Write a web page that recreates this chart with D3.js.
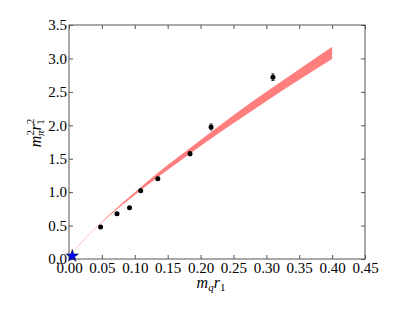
<!DOCTYPE html>
<html>
<head>
<meta charset="utf-8">
<script src="https://cdn.jsdelivr.net/npm/d3@7"></script>
<style>
  body { margin: 0; background: #fff; }
  text { font-family: "Liberation Serif", "DejaVu Serif", serif; fill: #000; }
</style>
</head>
<body>
<svg id="chart" width="399" height="319"></svg>
<script>
// lattice points: m_q r1 vs (m_pi r1)^2
const mq = [0.048, 0.073, 0.092, 0.109, 0.135, 0.184, 0.216, 0.310];
const mpi2 = [0.48, 0.675, 0.765, 1.02, 1.20, 1.575, 1.975, 2.72];
const err = [0.02, 0.02, 0.02, 0.025, 0.025, 0.03, 0.045, 0.05];

// fit band
const bandX = [0, 0.01, 0.02, 0.05, 0.1, 0.15, 0.2, 0.25, 0.3, 0.35, 0.4];
const bandLo = [0, 0.145, 0.256, 0.545, 0.958, 1.33, 1.69, 2.03, 2.36, 2.68, 2.99];
const bandHi = [0, 0.147, 0.260, 0.558, 0.998, 1.405, 1.78, 2.15, 2.50, 2.84, 3.175];

// physical point
const phys = [{ x: 0.005, y: 0.045 }];

const xTicks = [0, 0.05, 0.1, 0.15, 0.2, 0.25, 0.3, 0.35, 0.4, 0.45];
const yTicks = [0, 0.5, 1, 1.5, 2, 2.5, 3, 3.5];

const svg = d3.select('#chart');
const mLeft = 69, mRight = 365, mTop = 25, mBottom = 259;

const x = d3.scaleLinear().domain([0, 0.45]).range([mLeft, mRight]);
const y = d3.scaleLinear().domain([0, 3.5]).range([mBottom, mTop]);

const band = bandX.map((d, i) => ({ x: d, lo: bandLo[i], hi: bandHi[i] }));
svg.append('path')
  .datum(band)
  .attr('fill', '#ff0000')
  .attr('fill-opacity', 0.5)
  .attr('d', d3.area()
    .curve(d3.curveMonotoneX)
    .x(d => x(d.x))
    .y0(d => y(d.lo))
    .y1(d => y(d.hi)));

const pts = mq.map((d, i) => ({ x: d, y: mpi2[i], e: err[i] }));
const eb = svg.append('g').attr('stroke', '#000').attr('stroke-width', 0.8);
eb.selectAll('line.v')
  .data(pts)
  .enter().append('line')
    .attr('class', 'v')
    .attr('x1', d => x(d.x))
    .attr('x2', d => x(d.x))
    .attr('y1', d => y(d.y - d.e))
    .attr('y2', d => y(d.y + d.e));
for (const s of [-1, 1]) {
  eb.selectAll('line.c' + (s + 1))
    .data(pts)
    .enter().append('line')
      .attr('x1', d => x(d.x) - 1.5)
      .attr('x2', d => x(d.x) + 1.5)
      .attr('y1', d => y(d.y + s * d.e))
      .attr('y2', d => y(d.y + s * d.e));
}
svg.append('g')
  .selectAll('circle')
  .data(pts)
  .enter().append('circle')
    .attr('cx', d => x(d.x))
    .attr('cy', d => y(d.y))
    .attr('r', 2.5)
    .attr('fill', '#000');

// axes frame with inward ticks on all four sides
const axisColor = '#555';
function styleAxis(g) {
  g.select('.domain').remove();
  g.selectAll('.tick line').attr('stroke', axisColor);
  g.selectAll('.tick text')
    .style('font-family', '"Liberation Serif", "DejaVu Serif", serif')
    .style('font-size', '15px')
    .attr('fill', '#000');
}
svg.append('g')
  .attr('transform', `translate(0,${mBottom})`)
  .call(d3.axisBottom(x).tickValues(xTicks).tickFormat(d3.format('.2f')).tickSizeInner(-4).tickPadding(3.5).tickSizeOuter(0))
  .call(styleAxis)
  .call(g => g.selectAll('.tick text').attr('dy', '0.72em'));
svg.append('g')
  .attr('transform', `translate(0,${mTop})`)
  .call(d3.axisTop(x).tickValues(xTicks).tickFormat('').tickSizeInner(-4).tickSizeOuter(0))
  .call(styleAxis);
svg.append('g')
  .attr('transform', `translate(${mLeft},0)`)
  .call(d3.axisLeft(y).tickValues(yTicks).tickFormat(d3.format('.1f')).tickSizeInner(-4).tickPadding(3).tickSizeOuter(0))
  .call(styleAxis)
  .call(g => g.selectAll('.tick text').attr('x', -2));
svg.append('g')
  .attr('transform', `translate(${mRight},0)`)
  .call(d3.axisRight(y).tickValues(yTicks).tickFormat('').tickSizeInner(-4).tickSizeOuter(0))
  .call(styleAxis);

svg.append('rect')
  .attr('x', mLeft)
  .attr('y', mTop)
  .attr('width', mRight - mLeft)
  .attr('height', mBottom - mTop)
  .attr('fill', 'none')
  .attr('stroke', axisColor)
  .attr('stroke-width', 1);

// physical point star (drawn over the frame)
svg.append('g')
  .selectAll('path')
  .data(phys)
  .enter().append('path')
    .attr('transform', d => `translate(${x(d.x)},${y(d.y)})`)
    .attr('d', d3.symbol().type(d3.symbolStar).size(48))
    .attr('fill', '#0000ff')
    .attr('stroke', '#000')
    .attr('stroke-width', 0.5);

// axis labels
const xl = svg.append('text')
  .attr('x', 211)
  .attr('y', 288)
  .attr('text-anchor', 'middle')
  .style('font-size', '16px')
  .style('font-style', 'italic');
xl.append('tspan').text('m');
xl.append('tspan').attr('dy', 3).style('font-size', '11px').text('q');
xl.append('tspan').attr('dy', -3).text('r');
xl.append('tspan').attr('dy', 3).style('font-size', '11px').style('font-style', 'normal').text('1');

const yl = svg.append('text')
  .attr('transform', 'translate(41,133) rotate(-90)')
  .attr('text-anchor', 'middle')
  .style('font-size', '16px')
  .style('font-style', 'italic');
yl.append('tspan').text('m');
yl.append('tspan').attr('dy', -7).style('font-size', '11px').style('font-style', 'normal').text('2');
yl.append('tspan').attr('dx', -6).attr('dy', 10).style('font-size', '11px').text('π');
yl.append('tspan').attr('dy', -3).text('r');
yl.append('tspan').attr('dy', -7).style('font-size', '11px').style('font-style', 'normal').text('2');
yl.append('tspan').attr('dx', -6).attr('dy', 10).style('font-size', '11px').style('font-style', 'normal').text('1');
</script>
</body>
</html>
